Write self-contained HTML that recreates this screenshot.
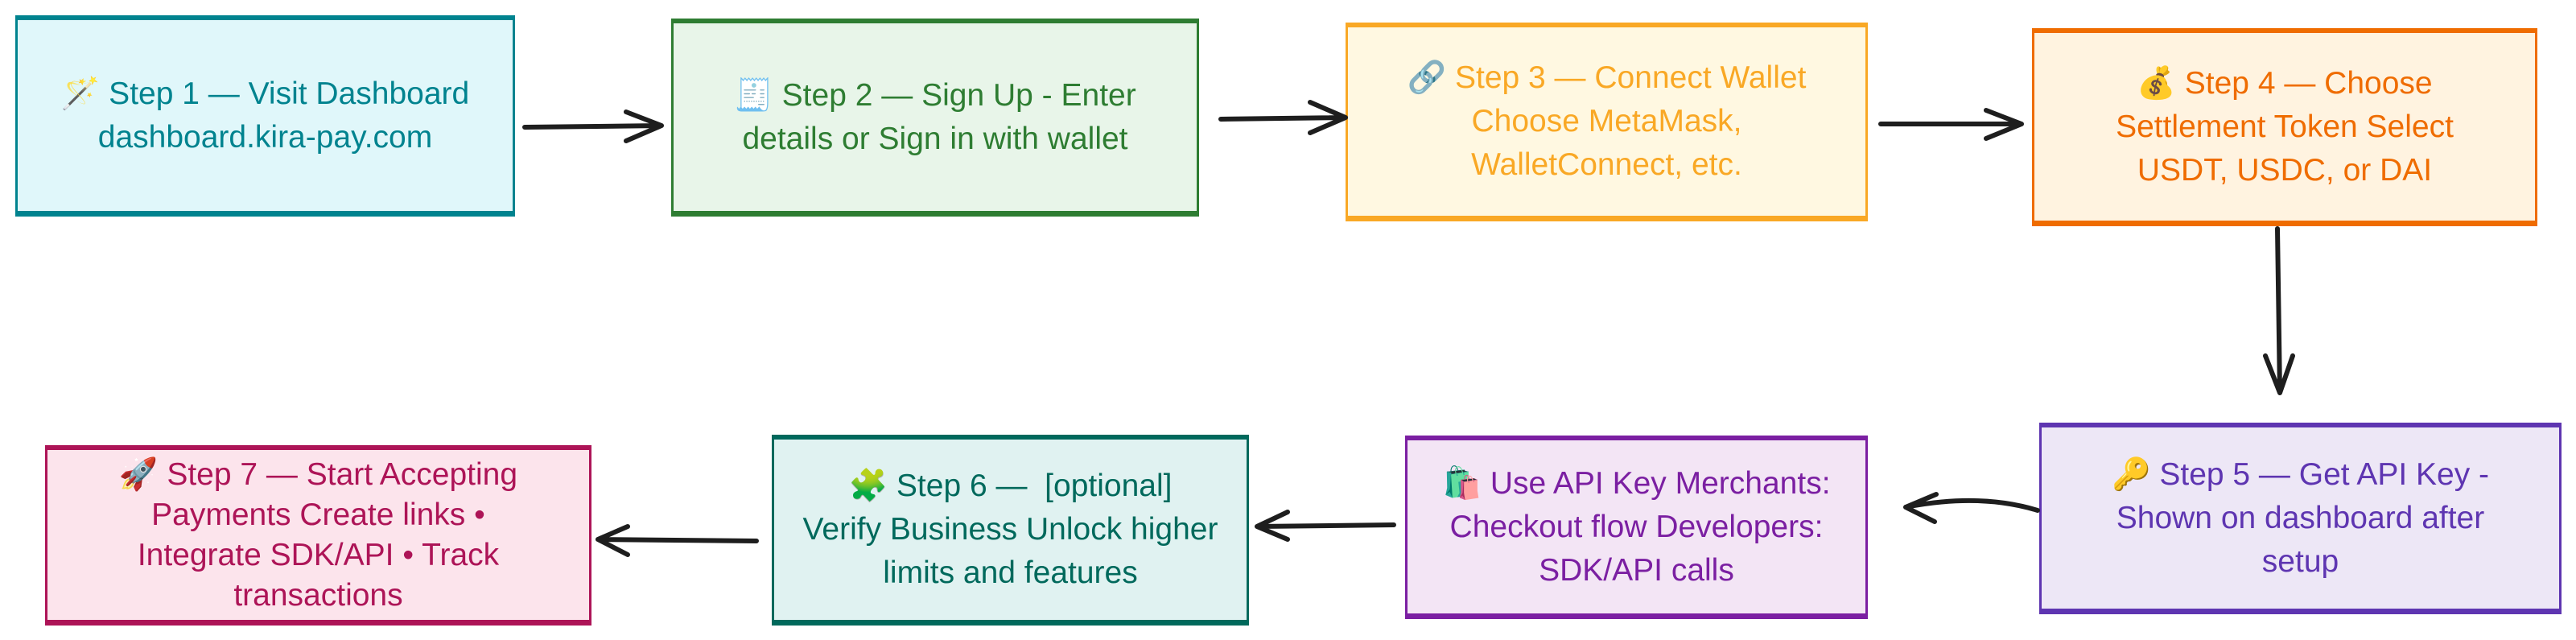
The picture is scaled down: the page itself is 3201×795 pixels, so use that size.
<!DOCTYPE html>
<html><head><meta charset="utf-8"><style>
html,body{margin:0;padding:0;background:#fff;width:3201px;height:795px;overflow:hidden}
.b{position:absolute;box-sizing:border-box;display:flex;align-items:center;justify-content:center;text-align:center;white-space:nowrap;
font-family:"Liberation Sans","DejaVu Sans",sans-serif;font-size:39px;line-height:54px;padding:0 10px;
border-style:solid;border-width:6px 3px 7px 3px}
svg{position:absolute;left:0;top:0}
</style></head><body>
<div class="b" style="left:19px;top:19px;width:621px;height:250px;background:#e0f7fa;border-color:#00838f;color:#00838f">🪄 Step 1 — Visit Dashboard<br>dashboard.kira-pay.com</div>
<div class="b" style="left:834px;top:23px;width:656px;height:246px;background:#e8f5e9;border-color:#2e7d32;color:#2e7d32">🧾 Step 2 — Sign Up - Enter<br>details or Sign in with wallet</div>
<div class="b" style="left:1672px;top:28px;width:649px;height:247px;background:#fff8e1;border-color:#f9a825;color:#f9a825">🔗 Step 3 — Connect Wallet<br>Choose MetaMask,<br>WalletConnect, etc.</div>
<div class="b" style="left:2525px;top:35px;width:628px;height:246px;background:#fff3e0;border-color:#ef6c00;color:#ef6c00">💰 Step 4 — Choose<br>Settlement Token Select<br>USDT, USDC, or DAI</div>
<div class="b" style="left:2534px;top:525px;width:649px;height:238px;background:#ede7f6;border-color:#5e35b1;color:#5e35b1">🔑 Step 5 — Get API Key -<br>Shown on dashboard after<br>setup</div>
<div class="b" style="left:1746px;top:541px;width:575px;height:228px;background:#f3e5f5;border-color:#7b1fa2;color:#7b1fa2">🛍️ Use API Key Merchants:<br>Checkout flow Developers:<br>SDK/API calls</div>
<div class="b" style="left:959px;top:540px;width:593px;height:237px;background:#e0f2f1;border-color:#00695c;color:#00695c">🧩 Step 6 —&nbsp; [optional]<br>Verify Business Unlock higher<br>limits and features</div>
<div class="b" style="left:56px;top:553px;width:679px;height:224px;background:#fce4ec;border-color:#ad1457;color:#ad1457;line-height:50px">🚀 Step 7 — Start Accepting<br>Payments Create links •<br>Integrate SDK/API • Track<br>transactions</div>
<svg width="3201" height="795" fill="none" stroke="#1e1e1e" stroke-width="6" stroke-linecap="round" stroke-linejoin="round">
<path d="M652 158 L822 156 M778 139 L822 156 L778 175"/>
<path d="M1517 148 L1672 146 M1628 127 L1672 146 L1628 165"/>
<path d="M2337 154 L2512 154 M2468 137 L2512 154 L2468 172"/>
<path d="M2830 284 L2833 488 M2815 442 L2833 488 L2849 442"/>
<path d="M2532 634 Q2460 612 2368 630 M2406 614 L2368 630 L2404 648"/>
<path d="M1732 652 L1562 654 M1600 636 L1562 654 L1600 670"/>
<path d="M940 672 L743 670 M780 654 L743 670 L780 689"/>
</svg>
</body></html>
